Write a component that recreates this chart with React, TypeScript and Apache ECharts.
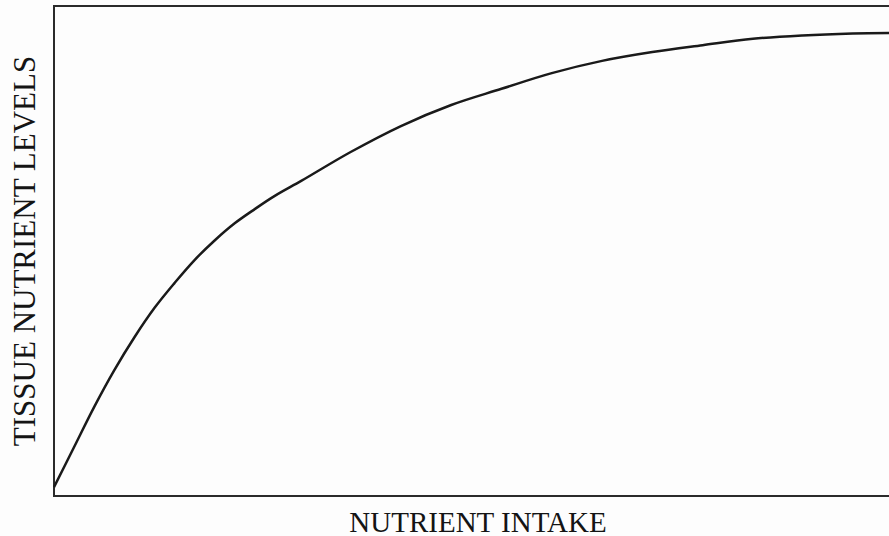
import React, { useEffect, useRef } from "react";
import * as echarts from "echarts";

const intake = [0, 2.4, 4.8, 7.2, 9.6, 12.0, 14.4, 16.8, 19.2, 21.6, 24.0, 26.3, 29.5, 35.4, 41.4, 47.4, 53.4, 59.4, 65.4, 71.4, 77.4, 83.4, 89.3, 95.3, 100];
const tissue = [1.8, 10.0, 18.2, 25.7, 32.4, 38.4, 43.5, 48.2, 52.2, 55.7, 58.6, 61.2, 64.3, 70.2, 75.5, 79.8, 83.1, 86.3, 88.8, 90.6, 92.0, 93.3, 94.0, 94.4, 94.5];
const xLabel = "NUTRIENT INTAKE";
const yLabel = "TISSUE NUTRIENT LEVELS";

export default function App() {
  const ref = useRef<HTMLDivElement>(null);
  useEffect(() => {
    document.body.style.margin = "0";
    const chart = echarts.init(ref.current!, null, { renderer: "svg" });
    const font = "'Liberation Serif', 'Times New Roman', serif";
    chart.setOption({
      animation: false,
      backgroundColor: "#fdfdfd",
      grid: { left: 54, top: 6, right: -3, bottom: 40, outerBoundsMode: "none", containLabel: false, show: true, borderColor: "#2b2b2b", borderWidth: 2, backgroundColor: "transparent" },
      xAxis: {
        type: "value", min: 0, max: 100,
        name: xLabel, nameLocation: "middle", nameGap: 11,
        nameTextStyle: { fontFamily: font, fontSize: 29, color: "#141414", padding: [0, 0, 0, 10] },
        axisLine: { show: false }, axisTick: { show: false }, axisLabel: { show: false }, splitLine: { show: false },
      },
      yAxis: {
        type: "value", min: 0, max: 100,
        name: yLabel, nameLocation: "middle", nameGap: 14,
        nameTextStyle: { fontFamily: font, fontSize: 31, color: "#141414" },
        axisLine: { show: false }, axisTick: { show: false }, axisLabel: { show: false }, splitLine: { show: false },
      },
      series: [{
        type: "line",
        data: intake.map((x, i) => [x, tissue[i]]),
        smooth: 0.35,
        showSymbol: false,
        lineStyle: { color: "#1a1a1a", width: 2.5 },
      }],
    });
    return () => chart.dispose();
  }, []);
  return <div ref={ref} style={{ width: 889, height: 536 }} />;
}
